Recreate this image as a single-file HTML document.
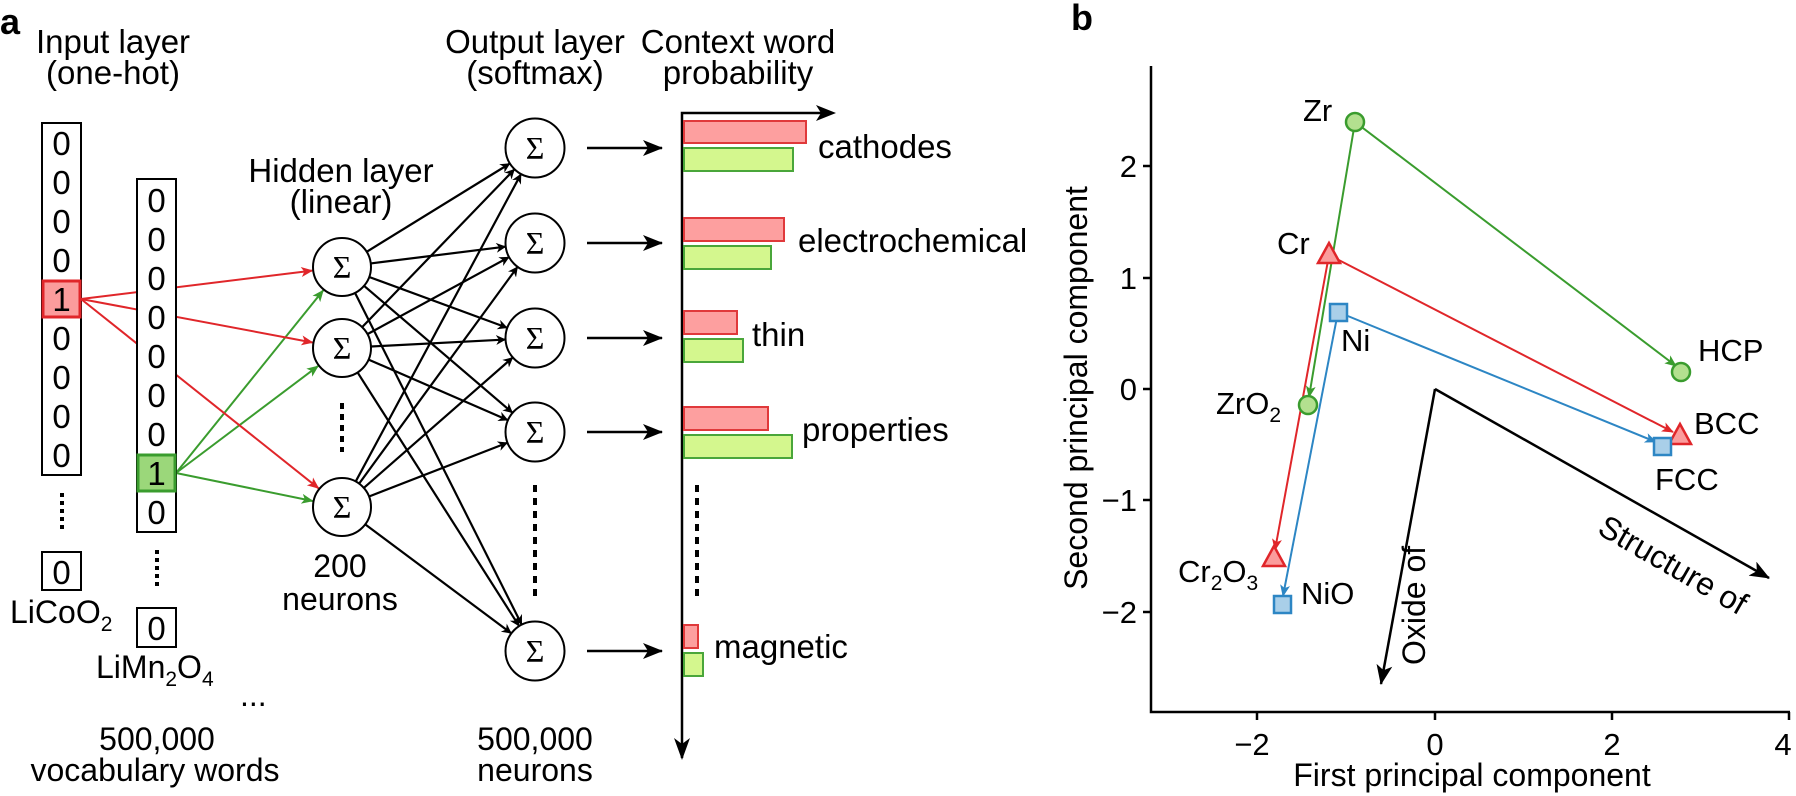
<!DOCTYPE html>
<html><head><meta charset="utf-8"><style>
html,body{margin:0;padding:0;background:#fff;}
svg{display:block;font-family:"Liberation Sans",Arial,sans-serif;}
</style></head><body>
<svg id="s" width="1796" height="796" viewBox="0 0 1796 796" xmlns="http://www.w3.org/2000/svg">
<defs>
<marker id="ak" markerWidth="10" markerHeight="10" refX="9" refY="5" orient="auto" markerUnits="userSpaceOnUse"><path d="M0,0 L10,5 L0,10 L3,5 z" fill="#000"/></marker>
<marker id="akb" markerWidth="20" markerHeight="16" refX="19" refY="8" orient="auto" markerUnits="userSpaceOnUse"><path d="M0,0 L20,8 L0,16 L5,8 z" fill="#000"/></marker>
<marker id="ar" markerWidth="12" markerHeight="10" refX="11" refY="5" orient="auto" markerUnits="userSpaceOnUse"><path d="M0,0 L12,5 L0,10 L3,5 z" fill="#e0262a"/></marker>
<marker id="ag" markerWidth="12" markerHeight="10" refX="11" refY="5" orient="auto" markerUnits="userSpaceOnUse"><path d="M0,0 L12,5 L0,10 L3,5 z" fill="#3a9c2e"/></marker>
<marker id="ab" markerWidth="12" markerHeight="10" refX="11" refY="5" orient="auto" markerUnits="userSpaceOnUse"><path d="M0,0 L12,5 L0,10 L3,5 z" fill="#2d86c4"/></marker>
</defs>

<!-- Panel a -->
<text x="0" y="34" font-size="36" font-weight="bold">a</text>
<g font-size="33" text-anchor="middle">
<text x="113" y="53">Input layer</text><text x="113" y="84">(one-hot)</text>
<text x="341" y="182">Hidden layer</text><text x="341" y="213">(linear)</text>
<text x="535" y="53">Output layer</text><text x="535" y="84">(softmax)</text>
<text x="738" y="53">Context word</text><text x="738" y="84">probability</text>
</g>

<g id="conn"></g>

<!-- column 1 -->
<rect x="42" y="123" width="39" height="352" fill="#fff" stroke="#000" stroke-width="2"/>
<rect x="43" y="281" width="37" height="36" fill="#fb9c9c" stroke="#e0262a" stroke-width="3"/>
<g font-size="33" text-anchor="middle">
<text x="61.5" y="155">0</text><text x="61.5" y="194">0</text><text x="61.5" y="233">0</text><text x="61.5" y="272">0</text>
<text x="61.5" y="311">1</text><text x="61.5" y="350">0</text><text x="61.5" y="389">0</text><text x="61.5" y="428">0</text><text x="61.5" y="467">0</text>
</g>
<line x1="62" y1="493" x2="62" y2="530" stroke="#000" stroke-width="4" stroke-dasharray="4,4"/>
<rect x="42" y="552" width="39" height="38" fill="#fff" stroke="#000" stroke-width="2"/>
<text x="61.5" y="584" font-size="33" text-anchor="middle">0</text>
<text x="10" y="623" font-size="32">LiCoO<tspan font-size="21" dy="8">2</tspan></text>

<g id="red"></g>
<!-- column 2 -->
<rect x="137" y="179" width="39" height="353" fill="#fff" stroke="#000" stroke-width="2"/>
<rect x="138" y="455" width="37" height="36" fill="#9bd77a" stroke="#3a9c2e" stroke-width="3"/>
<g font-size="33" text-anchor="middle">
<text x="156.5" y="212">0</text><text x="156.5" y="251">0</text><text x="156.5" y="290">0</text><text x="156.5" y="329">0</text>
<text x="156.5" y="368">0</text><text x="156.5" y="407">0</text><text x="156.5" y="446">0</text><text x="156.5" y="485">1</text><text x="156.5" y="524">0</text>
</g>
<line x1="157" y1="550" x2="157" y2="588" stroke="#000" stroke-width="4" stroke-dasharray="4,4"/>
<rect x="137" y="608" width="39" height="39" fill="#fff" stroke="#000" stroke-width="2"/>
<text x="156.5" y="640" font-size="33" text-anchor="middle">0</text>
<text x="96" y="678" font-size="32">LiMn<tspan font-size="21" dy="8">2</tspan><tspan dy="-8">O</tspan><tspan font-size="21" dy="8">4</tspan></text>
<text x="240" y="706" font-size="32">...</text>
<text x="157" y="750" font-size="32" text-anchor="middle">500,000</text>
<text x="155" y="781" font-size="32" text-anchor="middle">vocabulary words</text>

<!-- nodes -->
<g fill="#fff" stroke="#000" stroke-width="2">
<circle cx="342" cy="267" r="29"/><circle cx="342" cy="348" r="29"/><circle cx="342" cy="507" r="29"/>
<circle cx="535" cy="148" r="29.5"/><circle cx="535" cy="243" r="29.5"/><circle cx="535" cy="338" r="29.5"/><circle cx="535" cy="432" r="29.5"/><circle cx="535" cy="651" r="29.5"/>
</g>
<g font-family="'Liberation Serif',serif" font-size="32" text-anchor="middle">
<text x="342" y="278">Σ</text><text x="342" y="359">Σ</text><text x="342" y="518">Σ</text>
<text x="535" y="159">Σ</text><text x="535" y="254">Σ</text><text x="535" y="349">Σ</text><text x="535" y="443">Σ</text><text x="535" y="662">Σ</text>
</g>
<line x1="342" y1="403" x2="342" y2="452" stroke="#000" stroke-width="4" stroke-dasharray="6,5"/>
<line x1="535" y1="485" x2="535" y2="602" stroke="#000" stroke-width="4" stroke-dasharray="7,6"/>
<text x="340" y="577" font-size="32" text-anchor="middle">200</text>
<text x="340" y="610" font-size="32" text-anchor="middle">neurons</text>
<text x="535" y="750" font-size="32" text-anchor="middle">500,000</text>
<text x="535" y="781" font-size="32" text-anchor="middle">neurons</text>

<g stroke="#000" stroke-width="2.5" marker-end="url(#akb)">
<line x1="587" y1="148" x2="662" y2="148"/><line x1="587" y1="243" x2="662" y2="243"/><line x1="587" y1="338" x2="662" y2="338"/><line x1="587" y1="432" x2="662" y2="432"/><line x1="587" y1="651" x2="662" y2="651"/>
</g>
<path d="M682,758 L682,113 L832,113" fill="none" stroke="#000" stroke-width="2.5"/>
<path d="M836,113 L816,105 L821,113 L816,121 z" fill="#000"/>
<path d="M682,760 L674,738 L682,744 L690,738 z" fill="#000"/>
<g stroke-width="2">
<rect x="684" y="121" width="122" height="22" fill="#fd9f9f" stroke="#e0393b"/>
<rect x="684" y="148" width="109" height="23" fill="#d4f78e" stroke="#4aa63a"/>
<rect x="684" y="218" width="100" height="23" fill="#fd9f9f" stroke="#e0393b"/>
<rect x="684" y="246" width="87" height="23" fill="#d4f78e" stroke="#4aa63a"/>
<rect x="684" y="311" width="53" height="23" fill="#fd9f9f" stroke="#e0393b"/>
<rect x="684" y="339" width="59" height="23" fill="#d4f78e" stroke="#4aa63a"/>
<rect x="684" y="407" width="84" height="23" fill="#fd9f9f" stroke="#e0393b"/>
<rect x="684" y="435" width="108" height="23" fill="#d4f78e" stroke="#4aa63a"/>
<rect x="684" y="625" width="14" height="23" fill="#fd9f9f" stroke="#e0393b"/>
<rect x="684" y="653" width="19" height="23" fill="#d4f78e" stroke="#4aa63a"/>
</g>
<line x1="697" y1="485" x2="697" y2="602" stroke="#000" stroke-width="4" stroke-dasharray="7,6"/>
<g font-size="33">
<text x="818" y="158">cathodes</text>
<text x="798" y="252">electrochemical</text>
<text x="752" y="346">thin</text>
<text x="802" y="441">properties</text>
<text x="714" y="658">magnetic</text>
</g>

<!-- Panel b -->
<text x="1071" y="30" font-size="36" font-weight="bold">b</text>
<g stroke="#000" stroke-width="2.5" fill="none">
<path d="M1151,66 L1151,712 L1790,712"/>
<line x1="1143" y1="166" x2="1151" y2="166"/><line x1="1143" y1="278" x2="1151" y2="278"/><line x1="1143" y1="389" x2="1151" y2="389"/><line x1="1143" y1="500" x2="1151" y2="500"/><line x1="1143" y1="612" x2="1151" y2="612"/>
<line x1="1257" y1="712" x2="1257" y2="720"/><line x1="1435" y1="712" x2="1435" y2="720"/><line x1="1612" y1="712" x2="1612" y2="720"/><line x1="1789" y1="712" x2="1789" y2="720"/>
</g>
<g font-size="31" text-anchor="end">
<text x="1137" y="177">2</text><text x="1137" y="289">1</text><text x="1137" y="400">0</text><text x="1137" y="511">−1</text><text x="1137" y="623">−2</text>
</g>
<g font-size="31" text-anchor="middle">
<text x="1252" y="755">−2</text><text x="1435" y="755">0</text><text x="1612" y="755">2</text><text x="1783" y="755">4</text>
<text x="1472" y="786" font-size="32">First principal component</text>
</g>
<text transform="translate(1087,388) rotate(-90)" font-size="32" text-anchor="middle">Second principal component</text>

<g stroke="#000" stroke-width="2.5" fill="none" marker-end="url(#akb)">
<path d="M1435,389 L1381,684"/>
<path d="M1435,389 L1769,578"/>
</g>
<text transform="translate(1425,665) rotate(-90)" font-size="32">Oxide of</text>
<text transform="translate(1596,533) rotate(30)" font-size="32">Structure of</text>

<g stroke-width="2" fill="none">
<line x1="1355" y1="122" x2="1309" y2="397" stroke="#3a9c2e" marker-end="url(#ag)"/>
<line x1="1355" y1="122" x2="1676" y2="366" stroke="#3a9c2e" marker-end="url(#ag)"/>
<line x1="1329" y1="255" x2="1275" y2="550" stroke="#e0262a" marker-end="url(#ar)"/>
<line x1="1329" y1="255" x2="1673" y2="432" stroke="#e0262a" marker-end="url(#ar)"/>
<line x1="1338" y1="312" x2="1283" y2="596" stroke="#2d86c4" marker-end="url(#ab)"/>
<line x1="1338" y1="312" x2="1656" y2="442" stroke="#2d86c4" marker-end="url(#ab)"/>
</g>
<g stroke-width="2.5">
<circle cx="1355" cy="122" r="9" fill="#b3e08f" stroke="#3a9c2e"/>
<circle cx="1681" cy="372" r="9" fill="#b3e08f" stroke="#3a9c2e"/>
<circle cx="1308" cy="405" r="9" fill="#b3e08f" stroke="#3a9c2e"/>
<path d="M1329,243 L1340,263 L1318,263 z" fill="#fb9c9c" stroke="#e0262a"/>
<path d="M1680,424 L1691,444 L1669,444 z" fill="#fb9c9c" stroke="#e0262a"/>
<path d="M1274,546 L1285,566 L1263,566 z" fill="#fb9c9c" stroke="#e0262a"/>
<rect x="1330" y="304" width="17" height="17" fill="#a9cfe9" stroke="#2d86c4"/>
<rect x="1654" y="438" width="17" height="17" fill="#a9cfe9" stroke="#2d86c4"/>
<rect x="1274" y="596" width="17" height="17" fill="#a9cfe9" stroke="#2d86c4"/>
</g>
<g font-size="31">
<text x="1303" y="121">Zr</text>
<text x="1277" y="254">Cr</text>
<text x="1341" y="351">Ni</text>
<text x="1698" y="361">HCP</text>
<text x="1694" y="434">BCC</text>
<text x="1655" y="490">FCC</text>
<text x="1216" y="414">ZrO<tspan font-size="21" dy="8">2</tspan></text>
<text x="1178" y="582">Cr<tspan font-size="21" dy="8">2</tspan><tspan dy="-8">O</tspan><tspan font-size="21" dy="8">3</tspan></text>
<text x="1301" y="604">NiO</text>
</g>
</svg>
<script>
(function(){
var NS="http://www.w3.org/2000/svg";
function ln(g,x1,y1,cx,cy,r,col,mk,w){
 var dx=cx-x1,dy=cy-y1,d=Math.sqrt(dx*dx+dy*dy);
 var x2=cx-dx/d*r,y2=cy-dy/d*r;
 var l=document.createElementNS(NS,"line");
 l.setAttribute("x1",x1);l.setAttribute("y1",y1);l.setAttribute("x2",x2);l.setAttribute("y2",y2);
 l.setAttribute("stroke",col);l.setAttribute("stroke-width",w);l.setAttribute("marker-end","url(#"+mk+")");
 g.appendChild(l);
}
var conn=document.getElementById("conn"),red=document.getElementById("red");
var H=[267,348,507],O=[148,243,338,432,651];
H.forEach(function(h){O.forEach(function(o){
 var a=Math.atan2(o-h,535-342);
 ln(conn,342+29*Math.cos(a),h+29*Math.sin(a),535,o,30,"#000","ak",2.2);
});});
H.forEach(function(h){ln(red,81,299,342,h,30,"#e0262a","ar",2);});
H.forEach(function(h){ln(conn,176,473,342,h,30,"#3a9c2e","ag",2);});
})();
</script>
</body></html>
